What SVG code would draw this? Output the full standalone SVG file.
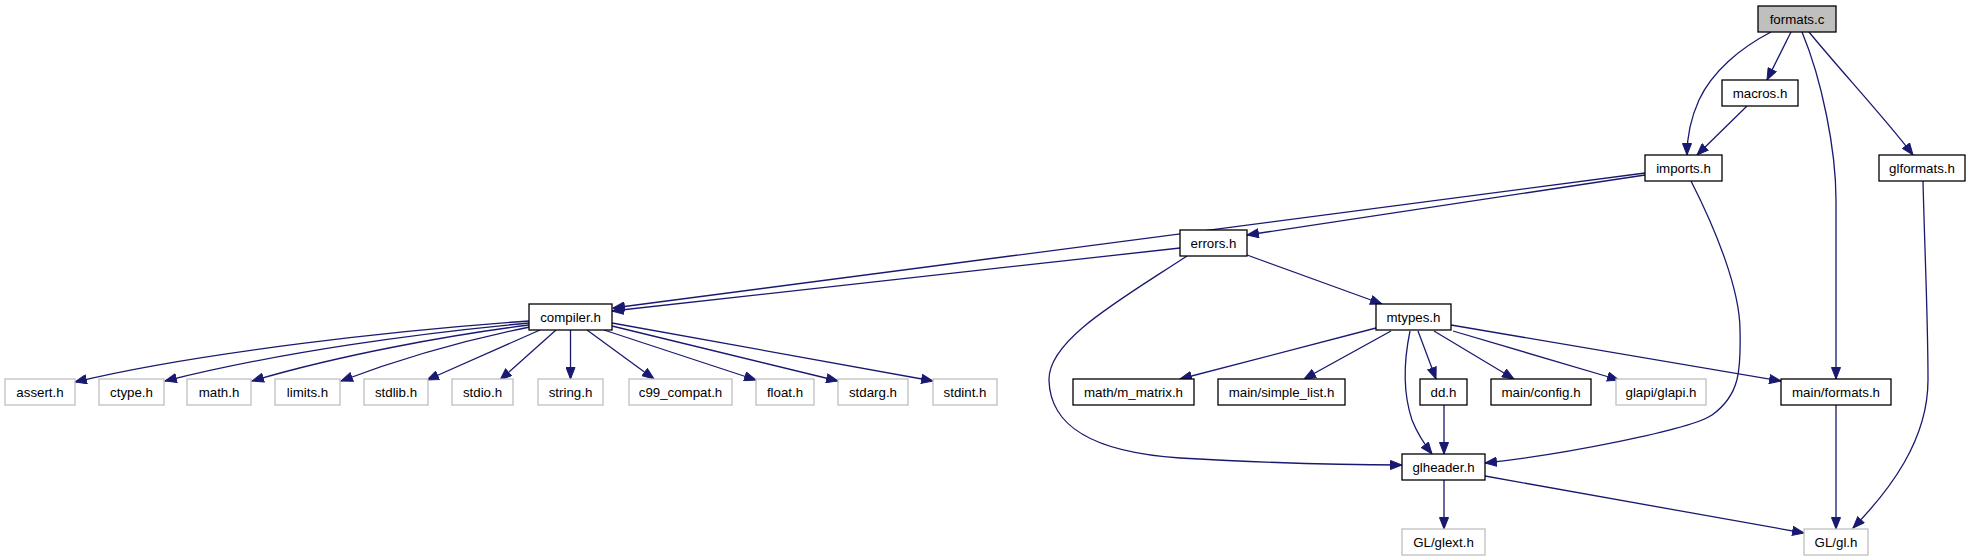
<svg xmlns="http://www.w3.org/2000/svg" width="1972" height="560" viewBox="0 0 1972 560">
<style>
.n rect{fill:#fff;stroke:#000;stroke-width:1.3}
.u rect{fill:#fff;stroke:#bfbfbf;stroke-width:1.3}
.root rect{fill:#bfbfbf;stroke:#000;stroke-width:1.3}
text{font-family:"Liberation Sans",Arial,sans-serif;font-size:13.3px;fill:#000;text-anchor:middle}
#edges path{fill:none;stroke:#191970;stroke-width:1.3;marker-end:url(#ah)}
</style>
<defs>
<marker id="ah" markerUnits="userSpaceOnUse" markerWidth="13" markerHeight="10" refX="12" refY="5" orient="auto">
<path d="M0.5,0.5 L12,5 L0.5,9.5 z" fill="#191970" stroke="#191970" stroke-width="1"/>
</marker>
</defs>
<rect width="1972" height="560" fill="#fff"/>
<g id="edges">
<path d="M1771,32 C1740,48 1712,72 1699,100 C1690,120 1687,138 1687,155"/>
<path d="M1791,32 L1767,80"/>
<path d="M1802,32 C1822,80 1836,150 1836,200 L1836,379"/>
<path d="M1809,32 C1840,70 1885,118 1913,155"/>
<path d="M1747,106 L1697,155"/>
<path d="M1645,173 L613,308"/>
<path d="M1645,175 L1247,235"/>
<path d="M1691,181 C1716,230 1740,290 1740,330 C1741,370 1740,395 1712,415 C1690,430 1560,455 1485,463"/>
<path d="M1180,248 L612,311"/>
<path d="M1247,255 L1382,304"/>
<path d="M1187,256 C1120,300 1048,340 1049,380 C1050,425 1090,452 1180,458 C1270,463 1350,465 1402,465"/>
<path d="M1923,181 C1925,260 1928,320 1928,380 C1928,440 1890,490 1853,528"/>
<path d="M529,321 C400,330 200,352 75,382"/>
<path d="M529,323 C420,333 280,352 165,381"/>
<path d="M529,325 C450,335 340,355 252,381"/>
<path d="M530,327 C480,337 410,355 341,381"/>
<path d="M540,330 L427,380"/>
<path d="M556,330 L500,380"/>
<path d="M570.5,330 L570.5,379"/>
<path d="M587,330 L654,379"/>
<path d="M604,330 L756,380"/>
<path d="M612,326 L838,381"/>
<path d="M612,323 L933,381"/>
<path d="M1376,328 L1180,379"/>
<path d="M1391,331 L1304,379"/>
<path d="M1410,331 C1404,360 1402,390 1412,420 C1418,435 1425,445 1432,454"/>
<path d="M1418,331 L1436,379"/>
<path d="M1434,331 L1514,379"/>
<path d="M1453,331 L1619,380"/>
<path d="M1451,325 L1781,381"/>
<path d="M1444,405 L1444,454"/>
<path d="M1836,405 L1836,529"/>
<path d="M1444,480 L1444,529"/>
<path d="M1485,476 L1804,533"/>
</g>
<g id="formats_c" class="root"><rect x="1758" y="6" width="78" height="26"/><text x="1797" y="23.5">formats.c</text></g>
<g id="macros_h" class="n"><rect x="1722" y="80" width="76" height="26"/><text x="1760" y="97.5">macros.h</text></g>
<g id="imports_h" class="n"><rect x="1645" y="155" width="77" height="26"/><text x="1683.5" y="172.5">imports.h</text></g>
<g id="glformats_h" class="n"><rect x="1879" y="155" width="86" height="26"/><text x="1922" y="172.5">glformats.h</text></g>
<g id="errors_h" class="n"><rect x="1180" y="230" width="67" height="26"/><text x="1213.5" y="247.5">errors.h</text></g>
<g id="compiler_h" class="n"><rect x="529" y="304" width="83" height="26"/><text x="570.5" y="321.5">compiler.h</text></g>
<g id="mtypes_h" class="n"><rect x="1376" y="304" width="75" height="26"/><text x="1413.5" y="321.5">mtypes.h</text></g>
<g id="assert_h" class="u"><rect x="5" y="379" width="70" height="26"/><text x="40" y="396.5">assert.h</text></g>
<g id="ctype_h" class="u"><rect x="99" y="379" width="65" height="26"/><text x="131.5" y="396.5">ctype.h</text></g>
<g id="math_h" class="u"><rect x="187" y="379" width="64" height="26"/><text x="219" y="396.5">math.h</text></g>
<g id="limits_h" class="u"><rect x="275" y="379" width="65" height="26"/><text x="307.5" y="396.5">limits.h</text></g>
<g id="stdlib_h" class="u"><rect x="364" y="379" width="64" height="26"/><text x="396" y="396.5">stdlib.h</text></g>
<g id="stdio_h" class="u"><rect x="452" y="379" width="61" height="26"/><text x="482.5" y="396.5">stdio.h</text></g>
<g id="string_h" class="u"><rect x="538" y="379" width="65" height="26"/><text x="570.5" y="396.5">string.h</text></g>
<g id="c99_compat_h" class="u"><rect x="629" y="379" width="103" height="26"/><text x="680.5" y="396.5">c99_compat.h</text></g>
<g id="float_h" class="u"><rect x="756" y="379" width="58" height="26"/><text x="785" y="396.5">float.h</text></g>
<g id="stdarg_h" class="u"><rect x="838" y="379" width="70" height="26"/><text x="873" y="396.5">stdarg.h</text></g>
<g id="stdint_h" class="u"><rect x="933" y="379" width="64" height="26"/><text x="965" y="396.5">stdint.h</text></g>
<g id="m_matrix_h" class="n"><rect x="1073" y="379" width="121" height="26"/><text x="1133.5" y="396.5">math/m_matrix.h</text></g>
<g id="simple_list_h" class="n"><rect x="1218" y="379" width="127" height="26"/><text x="1281.5" y="396.5">main/simple_list.h</text></g>
<g id="dd_h" class="n"><rect x="1420" y="379" width="47" height="26"/><text x="1443.5" y="396.5">dd.h</text></g>
<g id="config_h" class="n"><rect x="1491" y="379" width="100" height="26"/><text x="1541" y="396.5">main/config.h</text></g>
<g id="glapi_h" class="u"><rect x="1616" y="379" width="90" height="26"/><text x="1661" y="396.5">glapi/glapi.h</text></g>
<g id="main_formats_h" class="n"><rect x="1781" y="379" width="110" height="26"/><text x="1836" y="396.5">main/formats.h</text></g>
<g id="glheader_h" class="n"><rect x="1402" y="454" width="83" height="26"/><text x="1443.5" y="471.5">glheader.h</text></g>
<g id="glext_h" class="u"><rect x="1402" y="529" width="83" height="26"/><text x="1443.5" y="546.5">GL/glext.h</text></g>
<g id="gl_h" class="u"><rect x="1804" y="529" width="64" height="26"/><text x="1836" y="546.5">GL/gl.h</text></g>
</svg>
